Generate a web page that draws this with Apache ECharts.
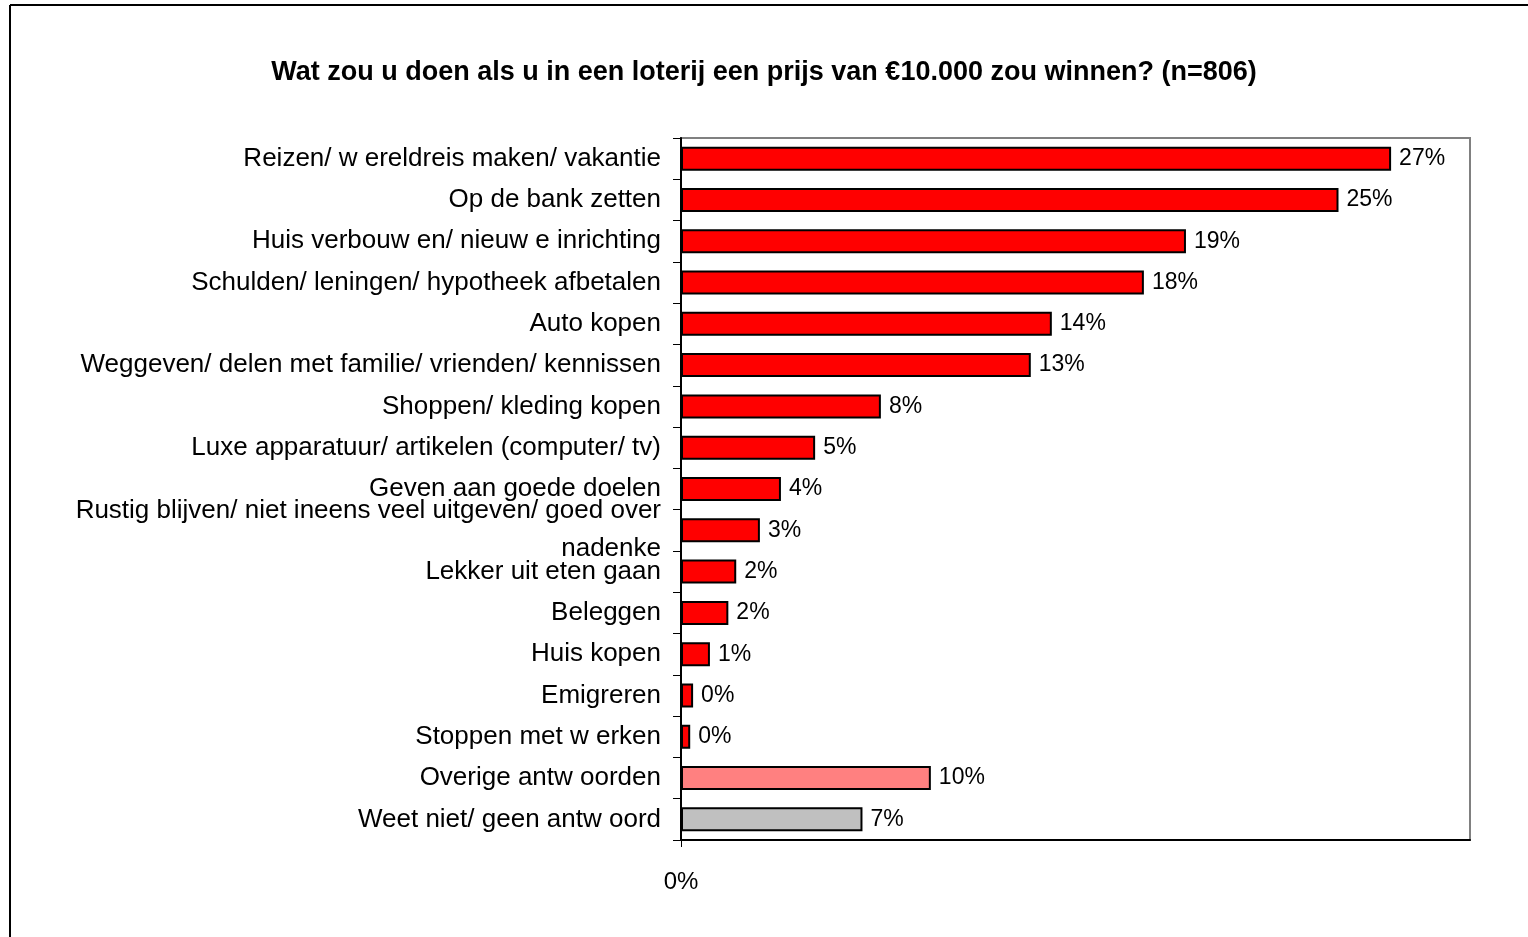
<!DOCTYPE html>
<html>
<head>
<meta charset="utf-8">
<script src="https://cdn.jsdelivr.net/npm/echarts@6/dist/echarts.min.js"></script>
<style>
  html, body { margin: 0; padding: 0; background: #fff; }
  #main { width: 1528px; height: 937px; }
</style>
</head>
<body>
<div id="main"></div>
<script>
// categories, top to bottom
var categories = [
  'Reizen/ w ereldreis maken/ vakantie',
  'Op de bank zetten',
  'Huis verbouw en/ nieuw e inrichting',
  'Schulden/ leningen/ hypotheek afbetalen',
  'Auto kopen',
  'Weggeven/ delen met familie/ vrienden/ kennissen',
  'Shoppen/ kleding kopen',
  'Luxe apparatuur/ artikelen (computer/ tv)',
  'Geven aan goede doelen',
  'Rustig blijven/ niet ineens veel uitgeven/ goed over\nnadenke',
  'Lekker uit eten gaan',
  'Beleggen',
  'Huis kopen',
  'Emigreren',
  'Stoppen met w erken',
  'Overige antw oorden',
  'Weet niet/ geen antw oord'
];

// percentages
var values = [27.0, 25.0, 19.2, 17.6, 14.1, 13.3, 7.6, 5.1, 3.8, 3.0, 2.1, 1.8, 1.1, 0.46, 0.35, 9.5, 6.9];

var barColors = [
  '#FF0000', '#FF0000', '#FF0000', '#FF0000', '#FF0000', '#FF0000', '#FF0000', '#FF0000',
  '#FF0000', '#FF0000', '#FF0000', '#FF0000', '#FF0000', '#FF0000', '#FF0000',
  '#FF8080', '#C0C0C0'
];

var myChart = echarts.init(document.getElementById('main'));

var option = {
  backgroundColor: '#fff',
  animation: false,
  title: {
    text: 'Wat zou u doen als u in een loterij een prijs van €10.000 zou winnen? (n=806)',
    left: 'center',
    top: 54,
    textStyle: {
      fontFamily: 'Liberation Sans',
      fontWeight: 'bold',
      fontSize: 27,
      color: '#000'
    }
  },
  graphic: [
    { type: 'line', shape: { x1: 10, y1: 5, x2: 1528, y2: 5 }, style: { stroke: '#000', lineWidth: 2 } },
    { type: 'line', shape: { x1: 10, y1: 5, x2: 10, y2: 937 }, style: { stroke: '#000', lineWidth: 2 } }
  ],
  grid: {
    left: 681,
    top: 138,
    right: 58,
    bottom: 97,
    show: true,
    borderColor: '#808080',
    borderWidth: 2
  },
  xAxis: {
    type: 'value',
    min: 0,
    max: 30,
    interval: 30,
    splitLine: { show: false },
    axisLine: { show: true, lineStyle: { color: '#000', width: 2 } },
    axisTick: { show: true, length: 7, customValues: [0], lineStyle: { color: '#000' } },
    axisLabel: {
      margin: 30,
      customValues: [0],
      fontFamily: 'Liberation Sans',
      fontSize: 24,
      color: '#000',
      formatter: function (v) { return v === 0 ? '0%' : ''; }
    }
  },
  yAxis: {
    type: 'category',
    inverse: true,
    data: categories,
    axisLine: { show: true, lineStyle: { color: '#000', width: 2 } },
    axisTick: { show: true, length: 8, lineStyle: { color: '#000' } },
    axisLabel: {
      margin: 20,
      fontFamily: 'Liberation Sans',
      fontSize: 26,
      lineHeight: 38,
      color: '#000'
    }
  },
  series: [
    {
      type: 'bar',
      barWidth: 24,
      data: values.map(function (v, i) {
        return {
          value: v,
          itemStyle: { color: barColors[i], borderColor: '#000', borderWidth: 2 }
        };
      }),
      label: {
        show: true,
        position: 'right',
        distance: 8,
        fontFamily: 'Liberation Sans',
        fontSize: 23,
        color: '#000',
        formatter: function (p) { return Math.round(p.value) + '%'; }
      }
    }
  ]
};

option && myChart.setOption(option);
</script>
</body>
</html>
